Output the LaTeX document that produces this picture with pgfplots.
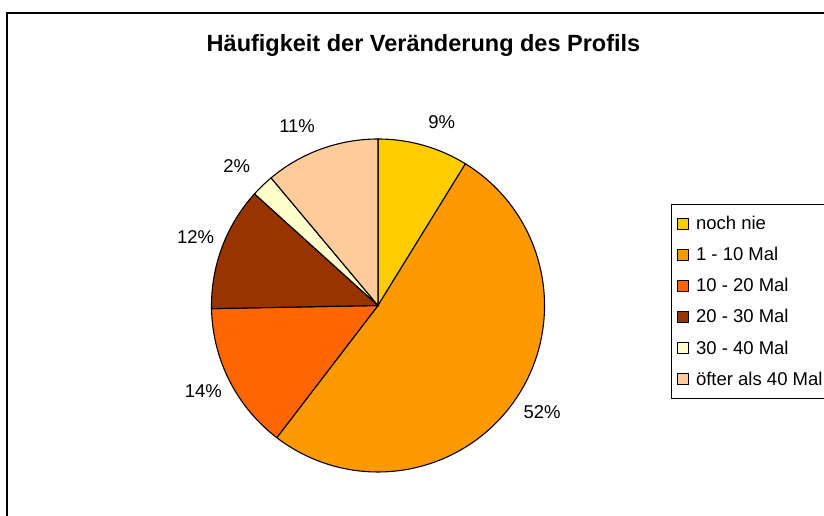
\documentclass[border=0pt]{standalone}
\usepackage{pgfplots}
\usepackage{pgfplotstable}
\pgfplotsset{compat=1.18}
\usepackage{fontspec}
\setmainfont{Liberation Sans}

\definecolor{c1}{HTML}{FFCC00}
\definecolor{c2}{HTML}{FF9900}
\definecolor{c3}{HTML}{FF6600}
\definecolor{c4}{HTML}{993300}
\definecolor{c5}{HTML}{FFFFCC}
\definecolor{c6}{HTML}{FFCC99}

\newcommand\lblfont{\fontsize{18.5bp}{22bp}\selectfont}
\newcommand\titlefont{\fontsize{23.5bp}{28bp}\selectfont\bfseries}

% share of each slice (percent), rounded label, label distance (pie radii)
\pgfplotstableread{
value label r
8.8   9     1.105
51.6  52    1.06
14.3  14    1.05
12.0  12    1.05
2.2   2     1.105
11.1  11    1.105
}\piedata

\begin{document}
\begin{tikzpicture}[x=1bp,y=1bp]
\path[use as bounding box] (0,0) rectangle (824,516);
% chart frame (cut off right and bottom)
\draw[line width=2bp] (7,-10) -- (7,503) -- (840,503);

\node[font=\titlefont, anchor=base] at (423.5,464) {Häufigkeit der Veränderung des Profils};

\begin{axis}[
    at={(378bp,210.5bp)},
    anchor=origin,
    scale only axis,
    width=333bp,
    height=333bp,
    xmin=-1, xmax=1,
    ymin=-1, ymax=1,
    hide axis,
    clip=false,
    legend cell align={left},
    legend image code/.code={%
        \draw[#1, draw=black, line width=0.7bp] (0bp,-5.5bp) rectangle (11bp,5.5bp);
    },
    legend style={
        at={(1.38,0.805)}, anchor=north west,
        draw=black, line width=0.6bp, fill=white,
        font=\lblfont,
        inner xsep=6bp, inner ysep=12bp,
        row sep=16.2bp,
        nodes={inner sep=0pt},
        column sep=0bp,
    },
]
\addlegendimage{fill=c1}\addlegendentry{\hspace{7bp}noch nie}
\addlegendimage{fill=c2}\addlegendentry{\hspace{7bp}1 - 10 Mal}
\addlegendimage{fill=c3}\addlegendentry{\hspace{7bp}10 - 20 Mal}
\addlegendimage{fill=c4}\addlegendentry{\hspace{7bp}20 - 30 Mal}
\addlegendimage{fill=c5}\addlegendentry{\hspace{7bp}30 - 40 Mal}
\addlegendimage{fill=c6}\addlegendentry{\hspace{7bp}öfter als 40 Mal}

\pgfplotsextra{%
  \gdef\cum{0}%
  \foreach \i/\col in {0/c1,1/c2,2/c3,3/c4,4/c5,5/c6} {%
    \pgfplotstablegetelem{\i}{value}\of\piedata
    \pgfmathsetmacro\v{\pgfplotsretval}%
    \pgfplotstablegetelem{\i}{r}\of\piedata
    \pgfmathsetmacro\rr{\pgfplotsretval}%
    \pgfplotstablegetelem{\i}{label}\of\piedata
    \let\lab\pgfplotsretval
    \pgfmathsetmacro\a{90-3.6*\cum}%
    \pgfmathsetmacro\b{90-3.6*(\cum+\v)}%
    \pgfmathsetmacro\m{(\a+\b)/2}%
    \filldraw[fill=\col, draw=black, line width=1.1bp]
      (axis cs:0,0) -- (axis cs:{cos(\a)},{sin(\a)})
      arc[start angle=\a, end angle=\b, radius=166.5bp] -- cycle;
    % label corner nearest the pie sits on the slice's middle ray
    \pgfmathsetmacro\cx{cos(\m)}%
    \pgfmathsetmacro\sy{sin(\m)}%
    \ifdim\sy pt>0pt \def\va{south}\else\def\va{north}\fi
    \ifdim\cx pt>0pt \def\ha{west}\else\def\ha{east}\fi
    \edef\anc{\va\space\ha}%
    \node[font=\lblfont, inner sep=0pt, anchor=\anc]
      at (axis cs:{\rr*cos(\m)},{\rr*sin(\m)}) {\lab\%};
    \pgfmathsetmacro\c{\cum+\v}\xdef\cum{\c}%
  }%
}
\end{axis}
\end{tikzpicture}
\end{document}
